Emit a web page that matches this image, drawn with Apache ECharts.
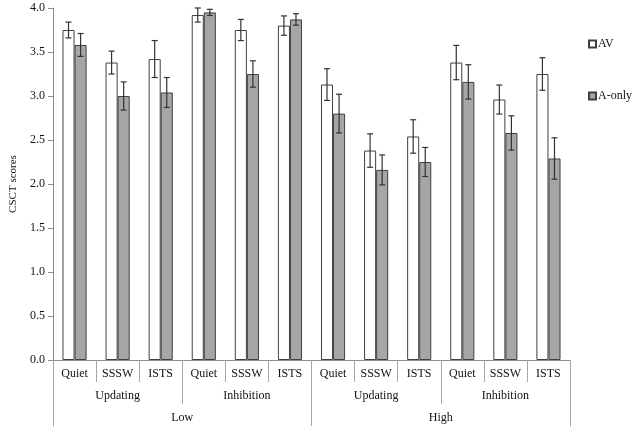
<!DOCTYPE html>
<html>
<head>
<meta charset="utf-8">
<script src="https://cdn.jsdelivr.net/npm/echarts@6/dist/echarts.min.js"></script>
<style>html,body{margin:0;padding:0;background:#fff}#c{width:635px;height:429px}</style>
</head>
<body>
<div id="c"></div>
<script>
var conditions = ['Quiet','SSSW','ISTS','Quiet','SSSW','ISTS','Quiet','SSSW','ISTS','Quiet','SSSW','ISTS'];
var tasks = ['Updating','Inhibition','Updating','Inhibition'];
var groups = ['Low','High'];
var yTicks = [0, 0.5, 1.0, 1.5, 2.0, 2.5, 3.0, 3.5, 4.0];
var av = [3.75,3.38,3.42,3.92,3.75,3.80,3.13,2.38,2.54,3.38,2.96,3.25];
var avErr = [0.09,0.13,0.21,0.08,0.12,0.11,0.18,0.19,0.19,0.195,0.165,0.185];
var aOnly = [3.58,3.00,3.04,3.95,3.25,3.87,2.80,2.16,2.25,3.16,2.58,2.29];
var aOnlyErr = [0.13,0.16,0.17,0.035,0.15,0.065,0.22,0.17,0.165,0.195,0.195,0.235];

var FONT = '"Liberation Serif","Times New Roman",serif';
var CAT_GAP = 0.44;

function errData(vals, errs){
  return vals.map(function(v,i){ return [i, v, errs[i]]; });
}
function errRender(side){
  return function(params, api){
    var i = api.value(0), v = api.value(1), e = api.value(2);
    var band = api.size([1,0])[0];
    var bw = band*(1-CAT_GAP)/2;
    var top = api.coord([i, v+e]);
    var bot = api.coord([i, v-e]);
    var x = top[0] + side*bw/2;
    var cap = 3;
    var st = {stroke:'#333', lineWidth:1.2};
    return {type:'group', children:[
      {type:'line', shape:{x1:x,y1:top[1],x2:x,y2:bot[1]}, style:st},
      {type:'line', shape:{x1:x-cap,y1:top[1],x2:x+cap,y2:top[1]}, style:st},
      {type:'line', shape:{x1:x-cap,y1:bot[1],x2:x+cap,y2:bot[1]}, style:st}
    ]};
  };
}

var chart = echarts.init(document.getElementById('c'), null, {renderer:'canvas'});
var tickColor = '#a6a6a6';
chart.setOption({
  animation:false,
  textStyle:{fontFamily:FONT},
  grid:{left:50, right:65, top:8, bottom:69},
  legend:{
    orient:'vertical', left:583, top:33, itemGap:40,
    itemWidth:7, itemHeight:7, icon:'rect',
    textStyle:{fontFamily:FONT, fontSize:12, color:'#111', padding:[0,0,0,-3]},
    data:['AV','A-only']
  },
  xAxis:[
    {type:'category', data:conditions, position:'bottom',
     axisLine:{onZero:false, lineStyle:{color:'#8c8c8c'}},
     axisTick:{show:true, interval:0, length:22, lineStyle:{color:tickColor}},
     axisLabel:{interval:0, margin:8, fontFamily:FONT, fontSize:12, color:'#111'}},
    {type:'category', data:tasks, position:'bottom', gridIndex:0,
     axisLine:{show:false, onZero:false},
     axisTick:{show:true, interval:0, length:44, lineStyle:{color:tickColor}},
     axisLabel:{interval:0, margin:30, fontFamily:FONT, fontSize:12, color:'#111'}},
    {type:'category', data:groups, position:'bottom', gridIndex:0,
     axisLine:{show:false, onZero:false},
     axisTick:{show:true, interval:0, length:66, lineStyle:{color:tickColor}},
     axisLabel:{interval:0, margin:52, fontFamily:FONT, fontSize:12, color:'#111'}}
  ],
  yAxis:{
    type:'value', min:yTicks[0], max:yTicks[yTicks.length-1], interval:0.5,
    name:'CSCT scores', nameLocation:'middle', nameGap:34, nameRotate:90,
    nameTextStyle:{fontFamily:FONT, fontSize:11, color:'#111'},
    axisLine:{show:true, lineStyle:{color:'#8c8c8c'}},
    axisTick:{show:true, length:5, lineStyle:{color:'#8c8c8c'}},
    splitLine:{show:false},
    axisLabel:{margin:8, fontFamily:FONT, fontSize:12, color:'#111',
      formatter:function(v){ return v.toFixed(1); }}
  },
  series:[
    {name:'AV', type:'bar', data:av, barGap:'0%', barCategoryGap:(CAT_GAP*100)+'%',
     itemStyle:{color:'#ffffff', borderColor:'#404040', borderWidth:1}},
    {name:'A-only', type:'bar', data:aOnly, barGap:'0%', barCategoryGap:(CAT_GAP*100)+'%',
     itemStyle:{color:'#a6a6a6', borderColor:'#404040', borderWidth:1}},
    {type:'custom', data:errData(av, avErr), renderItem:errRender(-1), z:10,
     encode:{x:0, y:1}},
    {type:'custom', data:errData(aOnly, aOnlyErr), renderItem:errRender(1), z:10,
     encode:{x:0, y:1}}
  ]
});
</script>
</body>
</html>
